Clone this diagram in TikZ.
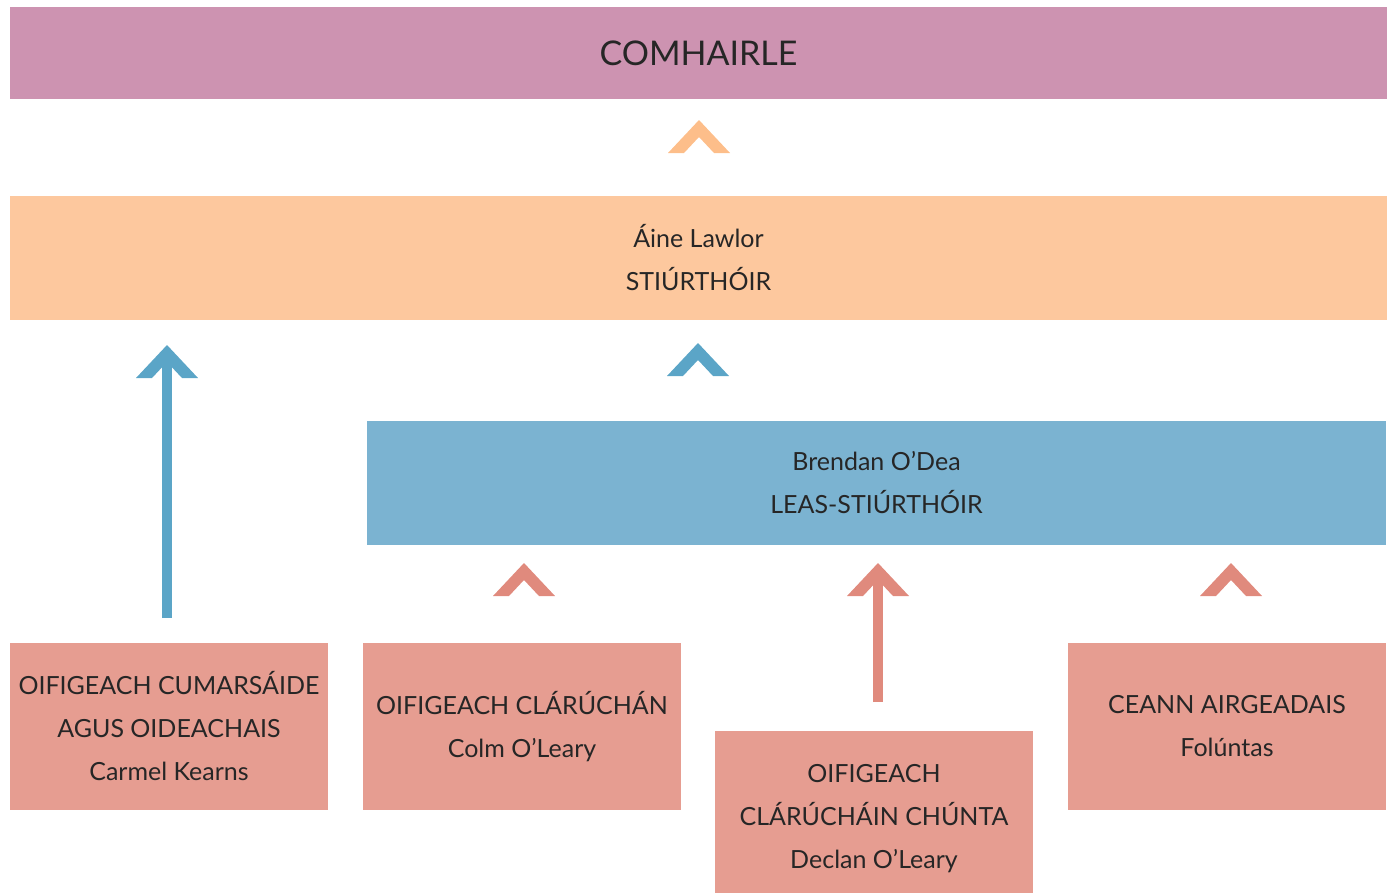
\documentclass[tikz,border=0pt]{standalone}
\usepackage{fontspec}
\setmainfont{Lato}
\usepackage{tikz}

\definecolor{councilpink}{HTML}{CD93B1}
\definecolor{directororange}{HTML}{FDC89E}
\definecolor{orangehead}{HTML}{FDBE8A}
\definecolor{deputyblue}{HTML}{7BB3D1}
\definecolor{bluehead}{HTML}{5BA5C7}
\definecolor{staffred}{HTML}{E69D91}
\definecolor{redhead}{HTML}{E08A7D}
\definecolor{inktext}{HTML}{262626}

\tikzset{
    band/.style={inner sep=0pt, align=center, text=inktext,
        font=\fontsize{25}{43}\selectfont},
    staffbox/.style={band, fill=staffred, minimum width=318, minimum height=167},
    chevron/.pic={
        \fill (0,0) -- (31,33) -- (15,33) -- (0,17) -- (-15,33) -- (-31,33) -- cycle;
    },
}

\begin{document}
\begin{tikzpicture}[x=1pt, y=-1pt]
            \useasboundingbox (0,0) rectangle (1395,892);
            % top rows
            \node (council) at (698.5,53) [band, fill=councilpink, minimum width=1377, minimum height=92,
                font=\fontsize{34}{40}\selectfont] {COMHAIRLE};
            \node (director) at (698.5,258) [band, fill=directororange, minimum width=1377, minimum height=124]
                {Áine Lawlor\\STIÚRTHÓIR};
            \node (deputy) at (876.5,483) [band, fill=deputyblue, minimum width=1019, minimum height=124]
                {Brendan O’Dea\\LEAS-STIÚRTHÓIR};
            % staff
            \node (comms) at (169,726.5) [staffbox] {OIFIGEACH CUMARSÁIDE\\AGUS OIDEACHAIS\\Carmel Kearns};
            \node (reg) at (522,726.5) [staffbox] {OIFIGEACH CLÁRÚCHÁN\\Colm O’Leary};
            \node (asst) at (874,818.5) [staffbox, minimum height=175] {OIFIGEACH\\CLÁRÚCHÁIN CHÚNTA\\Declan O’Leary};
            \node (fin) at (1227,726.5) [staffbox] {CEANN AIRGEADAIS\\Folúntas};
            % arrows
            \coordinate (commsTail) at (167,618);
            \coordinate (commsTip) at (167,362);
            \coordinate (asstTail) at (878,702);
            \coordinate (asstTip) at (878,580);
            \draw[bluehead, line width=10] (commsTail) -- (commsTip);
            \draw[redhead, line width=10] (asstTail) -- (asstTip);
            \pic[color=orangehead] at (699,120) {chevron};
            \pic[color=bluehead] at (167,345) {chevron};
            \pic[color=bluehead] at (698,343) {chevron};
            \pic[color=redhead] at (524,563) {chevron};
            \pic[color=redhead] at (878,563) {chevron};
            \pic[color=redhead] at (1231,563) {chevron};
        \end{tikzpicture}
\end{document}
